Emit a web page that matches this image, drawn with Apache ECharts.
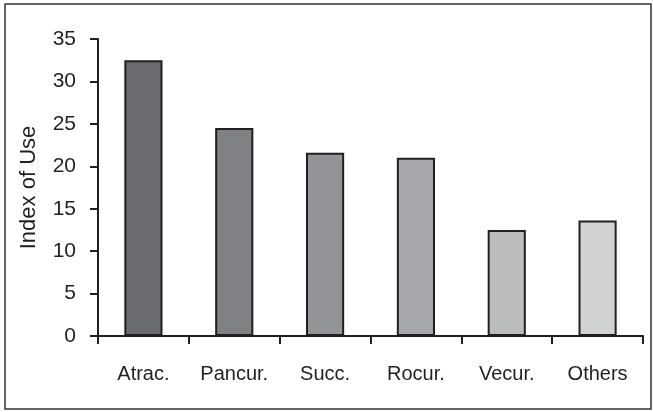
<!DOCTYPE html>
<html>
<head>
<meta charset="utf-8">
<script src="https://cdn.jsdelivr.net/npm/echarts@6/dist/echarts.min.js"></script>
<style>
  html, body { margin: 0; padding: 0; background: #fff; }
  #chart { width: 653px; height: 412px; }
</style>
</head>
<body>
<div id="chart"></div>
<script>
// values
const categories = ['Atrac.', 'Pancur.', 'Succ.', 'Rocur.', 'Vecur.', 'Others'];
const indexOfUse = [32.5, 24.5, 21.6, 21.0, 12.5, 13.6];
const barColors = ['#6b6c70', '#808185', '#939498', '#a7a8ab', '#bbbcbe', '#d1d2d3'];

const chart = echarts.init(document.getElementById('chart'));
const axisColor = '#231f20';
const font = 'Liberation Sans, Arial, sans-serif';

chart.setOption({
  animation: false,
  graphic: [{
    type: 'rect',
    shape: { x: 5, y: 4, width: 646, height: 405 },
    style: { fill: 'none', stroke: '#333', lineWidth: 1.5 }
  }],
  grid: { left: 98, right: 10, top: 39, bottom: 76 },
  xAxis: {
    type: 'category',
    data: categories,
    axisLine: { lineStyle: { color: axisColor, width: 2 } },
    axisTick: { show: true, length: 8, inside: false, lineStyle: { color: axisColor, width: 2 } },
    axisLabel: { color: '#231f20', fontSize: 20, fontFamily: font, margin: 28 }
  },
  yAxis: {
    type: 'value',
    min: 0,
    max: 35,
    interval: 5,
    name: 'Index of Use',
    nameLocation: 'middle',
    nameGap: 58,
    nameTextStyle: { color: '#231f20', fontSize: 22, fontFamily: font },
    splitLine: { show: false },
    axisLine: { show: true, lineStyle: { color: axisColor, width: 2 } },
    axisTick: { show: true, length: 8, lineStyle: { color: axisColor, width: 2 } },
    axisLabel: { color: '#231f20', fontSize: 21, fontFamily: font, margin: 22 }
  },
  series: [{
    type: 'bar',
    barWidth: '42%',
    data: indexOfUse.map((v, i) => ({
      value: v,
      itemStyle: { color: barColors[i], borderColor: axisColor, borderWidth: 2 }
    }))
  }]
});
</script>
</body>
</html>
